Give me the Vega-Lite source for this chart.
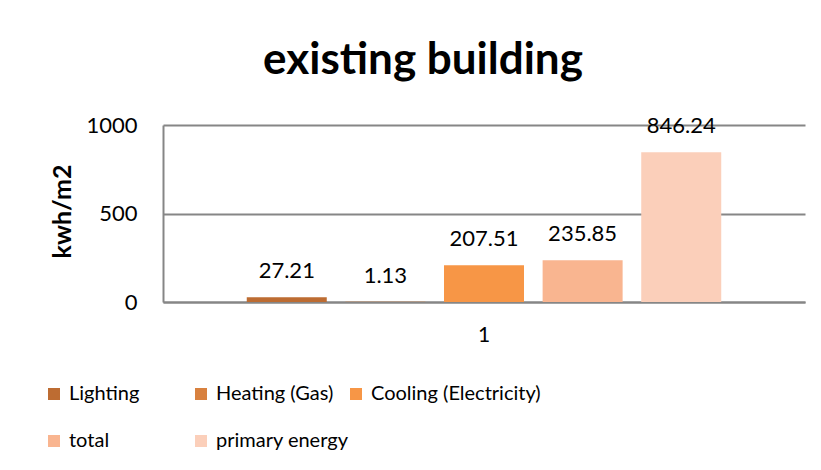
{
  "$schema": "https://vega.github.io/schema/vega-lite/v6.json",
  "autosize": "none",
  "width": 642,
  "height": 177,
  "padding": {"left": 163, "top": 125, "right": 16, "bottom": 168},
  "background": "white",
  "config": {
    "font": "Lato",
    "view": {"stroke": null},
    "legend": {
      "orient": "none",
      "title": null,
      "symbolType": "square",
      "symbolSize": 144,
      "symbolStrokeWidth": 0,
      "labelFontSize": 20,
      "labelColor": "#000000",
      "labelOffset": 5,
      "labelLimit": 400
    }
  },
  "title": {
    "text": "existing building",
    "font": "Lato",
    "fontSize": 44,
    "fontWeight": "bold",
    "color": "#000000",
    "anchor": "middle",
    "frame": "group",
    "dx": -61,
    "offset": 31
  },
  "data": {
    "values": [
      {"cat": "1", "series": "Lighting", "value": 27.21},
      {"cat": "1", "series": "Heating (Gas)", "value": 1.13},
      {"cat": "1", "series": "Cooling (Electricity)", "value": 207.51},
      {"cat": "1", "series": "total", "value": 235.85},
      {"cat": "1", "series": "primary energy", "value": 846.24}
    ]
  },
  "encoding": {
    "x": {
      "field": "cat",
      "type": "nominal",
      "title": null,
      "scale": {"paddingInner": 0, "paddingOuter": 0},
      "axis": {
        "labelAngle": 0,
        "ticks": false,
        "domainColor": "#868686",
        "domainWidth": 2,
        "labelFontSize": 21,
        "labelColor": "#000000",
        "labelPadding": 22
      }
    },
    "xOffset": {
      "field": "series",
      "type": "nominal",
      "scale": {
        "domain": ["Lighting", "Heating (Gas)", "Cooling (Electricity)", "total", "primary energy"],
        "paddingInner": 0.19,
        "paddingOuter": 0.85
      }
    },
    "y": {
      "field": "value",
      "type": "quantitative",
      "title": "kwh/m2",
      "scale": {"domain": [0, 1000]},
      "axis": {
        "values": [0, 500, 1000],
        "format": "d",
        "ticks": false,
        "domain": true,
        "domainColor": "#868686",
        "domainWidth": 2,
        "gridColor": "#868686",
        "gridWidth": 2,
        "labelFontSize": 22,
        "labelColor": "#000000",
        "labelPadding": 26,
        "titleFontSize": 25,
        "titleFontWeight": "bold",
        "titleFont": "Lato",
        "titleColor": "#000000",
        "titleAngle": -90,
        "titleX": -101,
        "titleY": 86,
        "titleAlign": "center",
        "titleBaseline": "middle"
      }
    }
  },
  "layer": [
    {
      "transform": [{"filter": "datum.series == 'Lighting'"}],
      "mark": {"type": "bar", "width": 80},
      "encoding": {
        "color": {
          "field": "series", "type": "nominal",
          "scale": {"domain": ["Lighting"], "range": ["#bd6c32"]},
          "legend": {"legendX": -119, "legendY": 259}
        }
      }
    },
    {
      "transform": [{"filter": "datum.series == 'Heating (Gas)'"}],
      "mark": {"type": "bar", "width": 80},
      "encoding": {
        "color": {
          "field": "series", "type": "nominal",
          "scale": {"domain": ["Heating (Gas)"], "range": ["#d8813f"]},
          "legend": {"legendX": 28, "legendY": 259}
        }
      }
    },
    {
      "transform": [{"filter": "datum.series == 'Cooling (Electricity)'"}],
      "mark": {"type": "bar", "width": 80},
      "encoding": {
        "color": {
          "field": "series", "type": "nominal",
          "scale": {"domain": ["Cooling (Electricity)"], "range": ["#f79646"]},
          "legend": {"legendX": 183, "legendY": 259}
        }
      }
    },
    {
      "transform": [{"filter": "datum.series == 'total'"}],
      "mark": {"type": "bar", "width": 80},
      "encoding": {
        "color": {
          "field": "series", "type": "nominal",
          "scale": {"domain": ["total"], "range": ["#f9b590"]},
          "legend": {"legendX": -119, "legendY": 306}
        }
      }
    },
    {
      "transform": [{"filter": "datum.series == 'primary energy'"}],
      "mark": {"type": "bar", "width": 80},
      "encoding": {
        "color": {
          "field": "series", "type": "nominal",
          "scale": {"domain": ["primary energy"], "range": ["#fbcfba"]},
          "legend": {"legendX": 28, "legendY": 306}
        }
      }
    },
    {
      "mark": {"type": "text", "dy": -26, "baseline": "middle", "fontSize": 22, "color": "#000000"},
      "encoding": {
        "text": {"field": "value", "type": "quantitative", "format": ".2f"}
      }
    }
  ],
  "resolve": {"scale": {"color": "independent"}, "legend": {"color": "independent"}}
}
